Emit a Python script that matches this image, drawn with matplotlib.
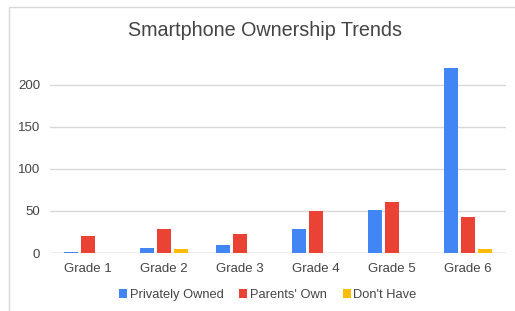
import numpy as np
import matplotlib.pyplot as plt
from matplotlib.patches import Rectangle

grades = ['Grade 1', 'Grade 2', 'Grade 3', 'Grade 4', 'Grade 5', 'Grade 6']
privately_owned = [1, 5.5, 10, 29, 51, 220]
parents_own = [20, 29, 23, 50, 61, 43]
dont_have = [0, 5, 0, 0, 0, 5]

series = [
    ('Privately Owned', privately_owned, '#4285F4'),
    ("Parents' Own", parents_own, '#EA4335'),
    ("Don't Have", dont_have, '#FBBC04'),
]

plt.rcParams['font.family'] = ['Liberation Sans', 'DejaVu Sans']
text_color = '#444444'

fig = plt.figure(figsize=(5.15, 3.11), dpi=100)
ax = fig.add_axes([50 / 515, 1 - 253 / 311, 456 / 515, 200 / 311])

# screenshot frame
fig.patches.append(Rectangle((9 / 515, -0.1), 1.2, (311 - 7) / 311 + 0.1,
                             transform=fig.transFigure, fill=False,
                             edgecolor='#d9d9d9', linewidth=1))

x = np.arange(len(grades))
width = 0.178
step = 0.224
for i, (name, vals, color) in enumerate(series):
    ax.bar(x + (i - 1) * step, vals, width, color=color, label=name, zorder=3)

ax.set_xlim(-0.5, 5.5)
ax.set_ylim(0, 238)
ax.set_yticks([0, 50, 100, 150, 200])
ax.set_xticks(x)
ax.set_xticklabels(grades)
ax.grid(axis='y', color='#d9d9d9', linewidth=1, zorder=0)
ax.tick_params(length=0, labelsize=9.5, labelcolor=text_color)
ax.tick_params(axis='x', pad=7)
ax.tick_params(axis='y', pad=7)
for s in ax.spines.values():
    s.set_visible(False)
ax.axhline(0, color='#cccccc', linewidth=1, zorder=2)

fig.text(0.515, 1 - 30 / 311, 'Smartphone Ownership Trends', ha='center',
         va='center', fontsize=14.2, color=text_color)

leg = fig.legend(loc='center', bbox_to_anchor=(0.52, 1 - 295 / 311), ncol=3,
                 frameon=False, fontsize=9.3, handlelength=0.6, handleheight=0.6,
                 handletextpad=0.2, columnspacing=1.25)
for t in leg.get_texts():
    t.set_color(text_color)

fig.savefig('out.png', dpi=100)
